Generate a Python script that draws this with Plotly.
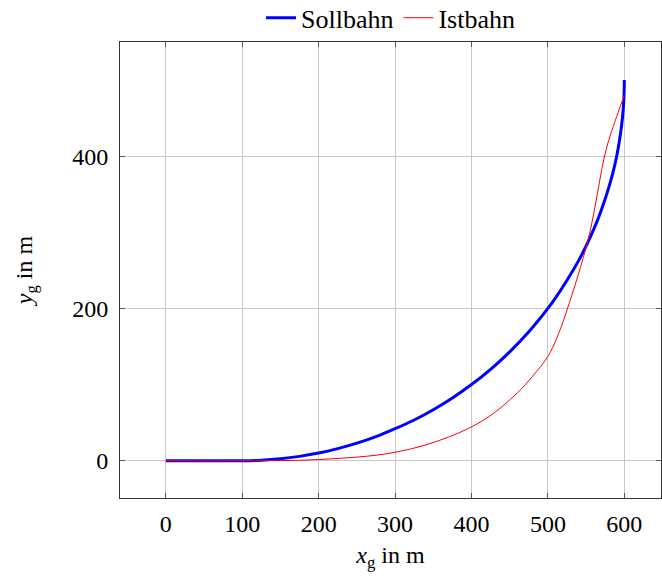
import plotly.graph_objects as go

# Sollbahn (target path)
soll_x = [0, 50, 100, 125, 150, 175, 200, 225, 250, 275, 300, 325, 350, 375, 400, 425, 450, 475, 500, 510, 525, 540, 550, 565, 575, 580, 585, 590, 594, 596, 598, 599, 599.8, 600]
soll_y = [0, 0, 0, 0.6, 2.5, 5.7, 10, 15.9, 23, 31.6, 42, 53.5, 67, 82.4, 100, 120, 143, 169.3, 200, 213.8, 237, 262.5, 282, 316, 344, 360, 378, 400, 423, 437, 455, 468, 486, 500]

ist_x = [0, 100, 200, 300, 370, 420, 460, 480, 500, 512, 525, 553, 576, 590, 600]
ist_y = [0, 0, 1.5, 11, 31, 56, 89, 111, 137, 162, 198, 292, 408, 452, 480]

x_ticks = [0, 100, 200, 300, 400, 500, 600]
y_ticks = [0, 200, 400]

font_family = "Liberation Serif, DejaVu Serif, serif"
fs = 24

fig = go.Figure()
fig.add_trace(go.Scatter(x=soll_x, y=soll_y, mode="lines", name="Sollbahn",
                         line=dict(color="#0000ff", width=3, shape="spline", smoothing=0.8)))
fig.add_trace(go.Scatter(x=ist_x, y=ist_y, mode="lines", name="Istbahn",
                         line=dict(color="#ff0000", width=1, shape="spline", smoothing=1.0)))

axis_common = dict(
    showgrid=True, gridcolor="#c8c8c8", gridwidth=1,
    showline=True, linecolor="#333333", linewidth=1, mirror="ticks",
    ticks="inside", ticklen=5, tickcolor="#555555",
    zeroline=False,
    tickfont=dict(family=font_family, size=fs, color="black"),
)

fig.update_xaxes(range=[-60, 648], tickvals=x_ticks, ticklabelstandoff=4,
                 title=dict(text="<i>x</i><sub>g</sub> in m", standoff=10,
                            font=dict(family=font_family, size=fs, color="black")),
                 **axis_common)
fig.update_yaxes(range=[-49, 550], tickvals=y_ticks, ticklabelstandoff=6,
                 title=dict(text="<i>y</i><sub>g</sub> in m", standoff=32,
                            font=dict(family=font_family, size=fs, color="black")),
                 **axis_common)

fig.update_layout(
    width=662, height=581,
    margin=dict(l=120, r=1, t=42, b=83, autoexpand=False),
    plot_bgcolor="white", paper_bgcolor="white",
    font=dict(family=font_family, size=fs, color="black"),
    legend=dict(orientation="h", x=0.5, xanchor="center", y=1.053, yanchor="middle",
                font=dict(family=font_family, size=26, color="black"),
                tracegroupgap=0, bgcolor="rgba(0,0,0,0)"),
    showlegend=True,
)

fig.write_html("out.html")
